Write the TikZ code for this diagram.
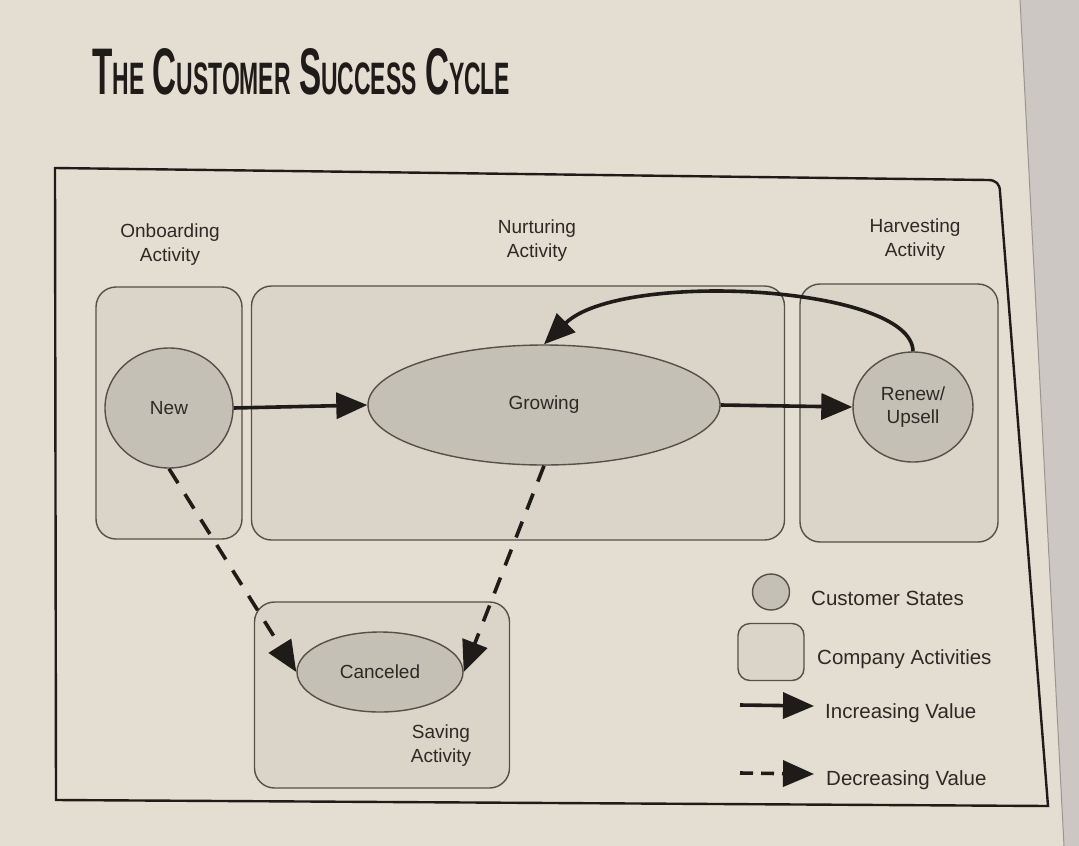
\documentclass[tikz,border=0pt]{standalone}
\usepackage{fontspec}
\usepackage{graphicx}
\setmainfont{Liberation Sans}
\usetikzlibrary{arrows.meta,shapes.geometric}
\definecolor{paper}{RGB}{228,221,209}
\definecolor{edge}{RGB}{204,199,194}
\definecolor{boxfill}{RGB}{218,212,201}
\definecolor{statefill}{RGB}{197,192,182}
\definecolor{linegrey}{RGB}{85,80,72}
\definecolor{ink}{RGB}{30,27,24}
\definecolor{textgrey}{RGB}{45,41,37}
\newcommand\tbig[1]{{\fontsize{30}{30}\selectfont #1}}
\newcommand\tsml[1]{{\fontsize{20.7}{20.7}\selectfont #1}}
\newcommand\tgap{\hspace{0.75em}}
\begin{document}
\begin{tikzpicture}[x=1pt,y=-1pt,
  activity/.style={draw=linegrey, line width=1.4pt, fill=boxfill, rounded corners=20pt, inner sep=0pt},
  state/.style={draw=linegrey, line width=1.4pt, fill=statefill, ellipse, inner sep=0pt, text=textgrey, font=\fontsize{19}{23}\selectfont, align=center},
  lbl/.style={text=textgrey, font=\fontsize{19}{24}\selectfont, align=center, inner sep=0pt},
  legtext/.style={text=textgrey, font=\fontsize{20.5}{24}\selectfont, anchor=west, inner sep=0pt},
  inc/.style={draw=ink, line width=3.6pt, -{Triangle[length=31pt,width=26pt]}},
  dec/.style={draw=ink, line width=3.6pt, dash pattern=on 17pt off 13pt, -{Triangle[length=31pt,width=26pt]}},
  frame/.style={draw=ink, line width=2.4pt}
]
\useasboundingbox (0,0) rectangle (1079,846);
\fill[paper] (0,0) rectangle (1079,846);
\fill[edge] (1020,0) -- (1079,0) -- (1079,846) -- (1064,846) -- cycle;
\draw[edge!75!black, line width=1pt] (1020,0) -- (1064,846);

% title
\node[anchor=north west, inner sep=0pt, text=ink] (title) at (92,48)
  {\resizebox{418pt}{46pt}{\bfseries\tbig{T}\tsml{HE}\tgap\tbig{C}\tsml{USTOMER}\tgap\tbig{S}\tsml{UCCESS}\tgap\tbig{C}\tsml{YCLE}}};

% outer frame
\draw[frame] (55,168) -- (988,180) .. controls (996,180) and (1000,184) .. (1000,192) -- (1048,806) -- (56,800) -- cycle;

% activity boxes
\node[activity, minimum width=146pt, minimum height=252pt] (onb) at (169,413) {};
\node[activity, minimum width=533pt, minimum height=254pt] (nur) at (518,413) {};
\node[activity, minimum width=198pt, minimum height=258pt] (har) at (899,413) {};
\node[activity, minimum width=255pt, minimum height=186pt] (sav) at (382,695) {};

% activity labels
\node[lbl] (onbl) at (170,245) {Onboarding\\Activity};
\node[lbl] (nurl) at (537,241) {Nurturing\\Activity};
\node[lbl] (harl) at (915,240) {Harvesting\\Activity};
\node[lbl] (savl) at (441,746) {Saving\\Activity};

% states
\node[state, minimum width=128pt, minimum height=120pt] (new) at (169,408) {New};
\node[state, minimum width=352pt, minimum height=120pt] (grow) at (544,405) {Growing};
\node[state, minimum width=120pt, minimum height=110pt] (renew) at (913,407) {Renew/\\Upsell};
\node[state, minimum width=166pt, minimum height=80pt] (cancel) at (380,672) {Canceled};

% connectors
\draw[inc] (new.east) -- (grow.west);
\draw[inc] (grow.east) -- (renew.west);
\draw[inc] (renew.north) .. controls (912,285) and (620,270) .. (grow.north);
\draw[dec] (new.south) -- (cancel.west);
\draw[dec] (grow.south) -- (cancel.east);

% legend
\node[state, minimum width=37pt, minimum height=36pt] (lgstate) at (771,592) {};
\node[legtext] (lgstatet) at (811,598) {Customer States};
\node[activity, rounded corners=12pt, minimum width=66pt, minimum height=57pt] (lgact) at (771,652) {};
\node[legtext] (lgactt) at (817,659) {Company Activities};
\coordinate (lgi1) at (740,705);
\coordinate (lgi2) at (814,706);
\draw[inc] (lgi1) -- (lgi2);
\node[legtext] (lgincr) at (825,713) {Increasing Value};
\coordinate (lgd1) at (740,773);
\coordinate (lgd2) at (814,774);
\draw[dec, dash pattern=on 13pt off 8pt] (lgd1) -- (lgd2);
\node[legtext] (lgdecr) at (826,780) {Decreasing Value};
\end{tikzpicture}
\end{document}
